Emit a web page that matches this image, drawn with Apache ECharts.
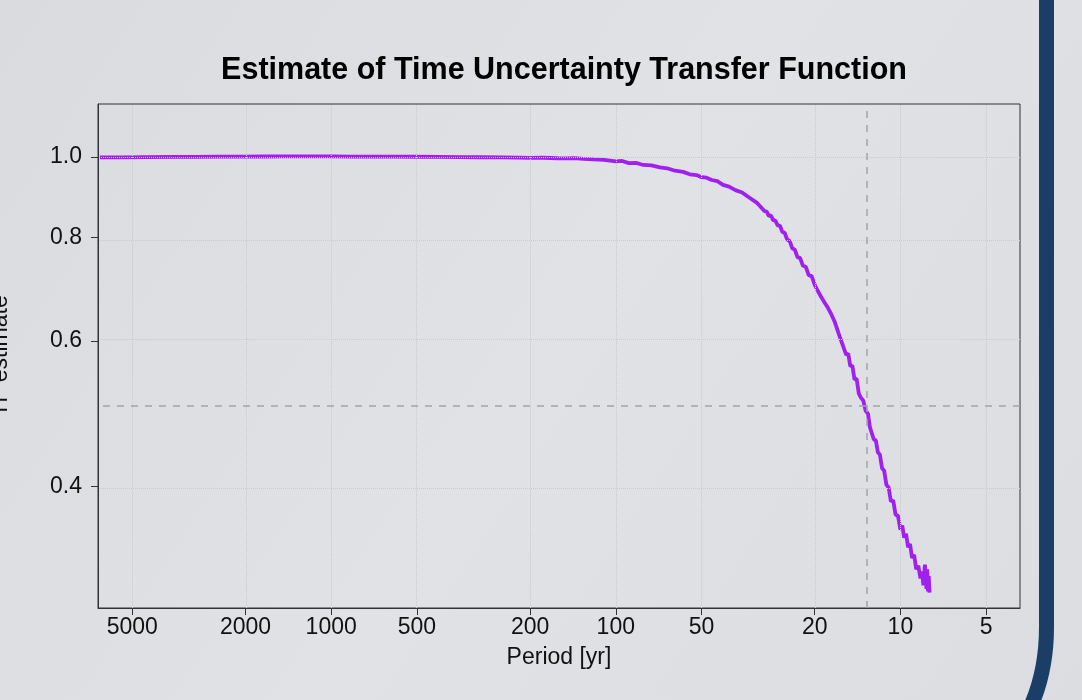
<!DOCTYPE html>
<html>
<head>
<meta charset="utf-8">
<script src="https://cdn.jsdelivr.net/npm/echarts@6/dist/echarts.min.js"></script>
<style>
html,body{margin:0;padding:0;background:#dddfe2;}
#c{width:1082px;height:700px;}
</style>
</head>
<body>
<div id="c"></div>
<script>
// ---- data ----
const titleText = 'Estimate of Time Uncertainty Transfer Function';
const xAxisName = 'Period [yr]';
const yAxisName = 'TF estimate';
const xTicks = [5000, 2000, 1000, 500, 200, 100, 50, 20, 10, 5];
const yTicks = [0.4, 0.6, 0.8, 1.0];
const xRange = [3.80, 6598];
const yRange = [0.2855, 1.1586];
const refPeriod = 13.25;
const refTF = 0.5;

const periods = [
  6500, 5500, 4500, 3500, 3000, 2500, 2000, 1700, 1500, 1200, 1000, 850, 700, 600, 500, 420, 350, 300, 250, 220, 200, 180, 160, 150, 140, 130, 120, 110, 100,
  95, 90, 85, 80, 75, 70, 66, 62, 58, 55, 52, 50, 48, 46, 44, 42, 40, 38, 36, 34, 32,
  30, 29.5, 29, 28.5, 28, 27.5, 27, 26.5, 26, 25.5, 25, 24.5, 24, 23.5, 23, 22.5, 22, 21.5, 21, 20.5, 20,
  19.75, 19.5, 19.25, 19, 18.75, 18.5, 18.25, 18, 17.75, 17.5, 17.25, 17, 16.75, 16.5, 16.25, 16, 15.75, 15.5, 15.25, 15, 14.75, 14.5, 14.25, 14, 13.75, 13.5, 13.25, 13,
  12.8, 12.6, 12.4, 12.2, 12.0, 11.8, 11.6, 11.4, 11.2, 11.0, 10.8, 10.6, 10.4, 10.2, 10.0, 9.85, 9.7, 9.55, 9.4, 9.25, 9.1, 8.95, 8.8, 8.65, 8.5, 8.4, 8.3, 8.2, 8.1, 8.05, 8.0, 7.95, 7.9
];
const tfEstimate = [
  0.9986, 0.9989, 0.9994, 1.0000, 1.0003, 1.0007, 1.0011, 1.0013, 1.0014, 1.0015, 1.0014, 1.0012, 1.0011, 1.0009, 1.0006, 1.0001, 0.9996, 0.9992, 0.9986, 0.9980, 0.9975, 0.9978, 0.9965, 0.9961, 0.9968, 0.9945, 0.9931, 0.9918, 0.9876,
  0.9890, 0.9830, 0.9835, 0.9780, 0.9770, 0.9715, 0.9690, 0.9625, 0.9595, 0.9530, 0.9510, 0.9455, 0.9440, 0.9380, 0.9350, 0.9255, 0.9210, 0.9120, 0.9060, 0.8935, 0.8810,
  0.860, 0.859, 0.849, 0.850, 0.839, 0.838, 0.827, 0.826, 0.812, 0.810, 0.795, 0.792, 0.776, 0.773, 0.757, 0.755, 0.739, 0.737, 0.720, 0.718, 0.701,
  0.703, 0.689, 0.692, 0.678, 0.681, 0.668, 0.671, 0.658, 0.660, 0.646, 0.649, 0.632, 0.633, 0.613, 0.614, 0.595, 0.596, 0.577, 0.579, 0.559, 0.560, 0.539, 0.540, 0.518, 0.512, 0.508, 0.494, 0.490,
  0.472, 0.471, 0.456, 0.455, 0.440, 0.437, 0.421, 0.418, 0.402, 0.399, 0.384, 0.385, 0.370, 0.369, 0.355, 0.359, 0.347, 0.351, 0.338, 0.341, 0.328, 0.331, 0.318, 0.321, 0.310, 0.316, 0.304, 0.322, 0.301, 0.318, 0.299, 0.312, 0.298
];

// ---- chart ----
const L = Math.log10;
const FONT = "'Liberation Sans', Arial, Helvetica, sans-serif";
const seriesData = periods.map((p, i) => [L(p), L(tfEstimate[i])]);

const gridStyle = { type: 'dotted', color: '#c9cbce', width: 1 };
const refStyle = { type: [7, 7], color: '#a4a4a4', width: 1.5 };
const markData = []
  .concat(xTicks.map(t => ({ xAxis: L(t), lineStyle: gridStyle })))
  .concat(yTicks.map(t => ({ yAxis: L(t), lineStyle: gridStyle })))
  .concat([{ xAxis: L(refPeriod), lineStyle: refStyle }, { yAxis: L(refTF), lineStyle: refStyle }]);

const chart = echarts.init(document.getElementById('c'), null, { renderer: 'canvas' });
chart.setOption({
  animation: false,
  backgroundColor: {
    type: 'linear', x: 0, y: 0, x2: 1, y2: 1,
    colorStops: [
      { offset: 0, color: '#d9dbde' },
      { offset: 0.5, color: '#e0e2e5' },
      { offset: 1, color: '#dbdde0' }
    ]
  },
  title: {
    text: titleText,
    left: 559,
    textAlign: 'center',
    top: 50,
    textStyle: { fontFamily: FONT, fontWeight: 'bold', fontSize: 30.5, color: '#000' }
  },
  grid: {
    left: 98, right: 62, top: 104, bottom: 92,
    containLabel: false,
    outerBoundsMode: 'none',
    show: true, borderColor: '#333', borderWidth: 1, backgroundColor: 'transparent'
  },
  xAxis: {
    type: 'value',
    inverse: true,
    min: L(xRange[0]),
    max: L(xRange[1]),
    name: xAxisName,
    nameLocation: 'middle',
    nameGap: 38,
    nameTextStyle: { fontFamily: FONT, fontSize: 23, color: '#111' },
    axisLine: { show: true, onZero: false, lineStyle: { color: '#333', width: 1 } },
    axisTick: { show: true, length: 7, customValues: xTicks.map(L), lineStyle: { color: '#333' } },
    axisLabel: {
      customValues: xTicks.map(L),
      formatter: v => String(Math.round(Math.pow(10, v))),
      fontFamily: FONT, fontSize: 23, color: '#111', margin: 8
    },
    splitLine: { show: false }
  },
  yAxis: {
    type: 'value',
    min: L(yRange[0]),
    max: L(yRange[1]),
    name: yAxisName,
    nameLocation: 'middle',
    nameGap: 86,
    nameRotate: 90,
    nameTextStyle: { fontFamily: FONT, fontSize: 23, color: '#111' },
    axisLine: { show: true, onZero: false, lineStyle: { color: '#333', width: 1 } },
    axisTick: { show: true, length: 7, customValues: yTicks.map(L), lineStyle: { color: '#333' } },
    axisLabel: {
      customValues: yTicks.map(L),
      formatter: v => Math.pow(10, v).toFixed(1),
      fontFamily: FONT, fontSize: 23, color: '#111', margin: 16
    },
    splitLine: { show: false }
  },
  series: [{
    type: 'line',
    data: seriesData,
    showSymbol: false,
    symbol: 'none',
    silent: true,
    clip: true,
    lineStyle: { color: '#A020F0', width: 3.8 },
    markLine: {
      silent: true,
      symbol: 'none',
      label: { show: false },
      animation: false,
      data: markData
    }
  }],
  graphic: [
    {
      type: 'line',
      silent: true,
      shape: { x1: 1046.5, y1: -10, x2: 1046.5, y2: 628 },
      style: { stroke: '#1a3e66', lineWidth: 15 }
    },
    {
      type: 'bezierCurve',
      silent: true,
      shape: { x1: 1046.5, y1: 627, cpx1: 1046.5, cpy1: 672, x2: 1030, y2: 708 },
      style: { fill: 'none', stroke: '#1a3e66', lineWidth: 15 }
    }
  ]
});
</script>
</body>
</html>
